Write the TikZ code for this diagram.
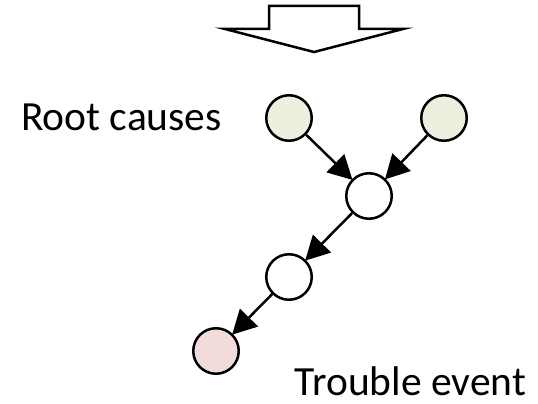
\documentclass[tikz,border=0pt]{standalone}
\usepackage{fontspec}
\setmainfont{Carlito}
\usetikzlibrary{arrows.meta}
\definecolor{causa}{HTML}{EBF1DE}
\definecolor{guasto}{HTML}{F2DCDB}
\tikzset{
  evento/.style={circle,draw=black,line width=2.5pt,minimum size=45.5pt,inner sep=0pt},
  freccia/.style={line width=2.5pt,-{Triangle[length=24pt,width=25pt]},shorten >=-1pt},
  etichetta/.style={font=\fontsize{41.5}{48}\selectfont,anchor=base,inner sep=0pt}
}
\begin{document}
\begin{tikzpicture}[x=1pt,y=-1pt]
            \useasboundingbox (0,0) rectangle (538,404);
            % Freccia in alto
            \draw[line width=2.5pt,line join=miter,fill=white] (269,6) -- (359,6) -- (359,29) -- (403,29)
                -- (314,52) -- (225,29) -- (269,29) -- cycle;
            
            % Cause e nodi intermedi
            \node[evento,fill=causa] (causaA) at (289,118) {};
            \node[evento,fill=causa] (causaB) at (444,118) {};
            \node[evento,fill=white] (medio) at (369,196) {};
            \node[evento,fill=white] (basso) at (289,277) {};
            \node[evento,fill=guasto] (guasto) at (216,351) {};
            
            % Collegamenti
            \draw[freccia] (causaA) -- (medio);
            \draw[freccia] (causaB) -- (medio);
            \draw[freccia] (medio) -- (basso);
            \draw[freccia] (basso) -- (guasto);
            
            % Etichette
            \node[etichetta] (radici) at (121.5,130) {Root causes};
            \node[etichetta] (evento) at (410.5,395) {Trouble event};
        \end{tikzpicture}
\end{document}
